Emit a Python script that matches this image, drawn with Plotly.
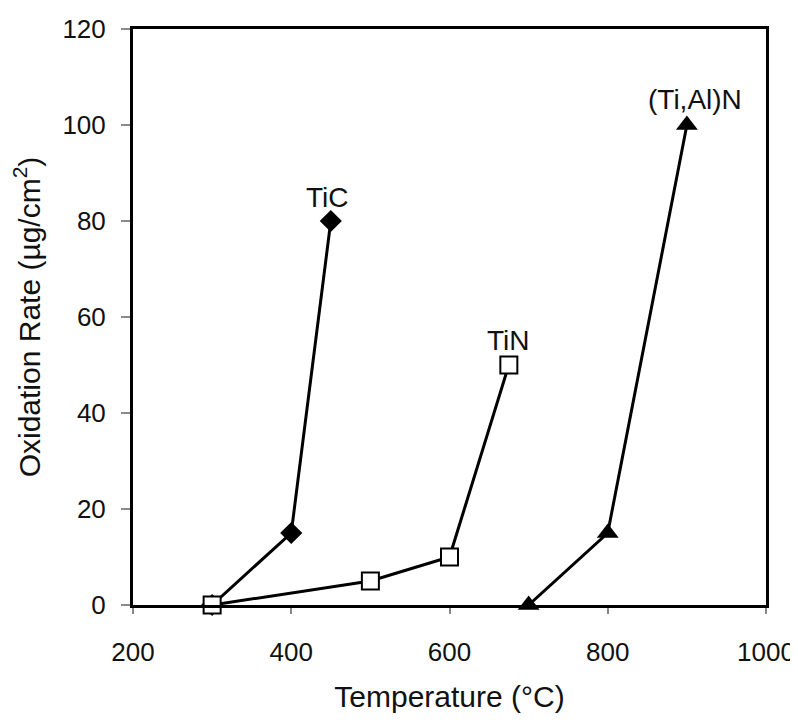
import plotly.graph_objects as go

# Data
tic_temp = [300, 400, 450]
tic_rate = [0, 15, 80]
tin_temp = [300, 500, 600, 675]
tin_rate = [0, 5, 10, 50]
tialn_temp = [700, 800, 900]
tialn_rate = [0, 15, 100]

x_ticks = [200, 400, 600, 800, 1000]
y_ticks = [0, 20, 40, 60, 80, 100, 120]

FONT = "Liberation Sans, Arial, sans-serif"
LBL = dict(size=28, color="#111", family=FONT)

fig = go.Figure()

fig.add_trace(go.Scatter(
    x=tic_temp, y=tic_rate, mode="lines+markers",
    line=dict(color="black", width=3),
    marker=dict(symbol="diamond", size=17, color="black"),
    name="TiC", cliponaxis=False))
fig.add_trace(go.Scatter(
    x=tialn_temp, y=tialn_rate, mode="lines+markers",
    line=dict(color="black", width=3),
    marker=dict(symbol="triangle-up", size=19, color="black"),
    name="(Ti,Al)N", cliponaxis=False))
fig.add_trace(go.Scatter(
    x=tin_temp, y=tin_rate, mode="lines+markers",
    line=dict(color="black", width=3),
    marker=dict(symbol="square", size=17, color="white",
                line=dict(color="black", width=2)),
    name="TiN", cliponaxis=False))

# Series labels at each last point
fig.add_annotation(x=tic_temp[-1], y=tic_rate[-1], text="TiC", showarrow=False,
                   yshift=24, xshift=-3, font=LBL)
fig.add_annotation(x=tin_temp[-1], y=tin_rate[-1], text="TiN", showarrow=False,
                   yshift=25, xshift=0, font=LBL)
fig.add_annotation(x=tialn_temp[-1], y=tialn_rate[-1], text="(Ti,Al)N", showarrow=False,
                   yshift=26, xshift=8, font=LBL)

fig.update_layout(
    width=798, height=722,
    paper_bgcolor="white", plot_bgcolor="white",
    showlegend=False,
    margin=dict(l=125, r=40, t=21, b=125),
    font=dict(family=FONT, size=27, color="#111"),
    xaxis=dict(range=[200, 1000], tickvals=x_ticks, ticks="outside", ticklen=6,
               tickcolor="#888", tickwidth=2, showgrid=False, zeroline=False,
               showline=True, linecolor="black", linewidth=3, mirror=True,
               ticklabelstandoff=16,
               tickfont=dict(size=26), automargin=False,
               title=dict(text="Temperature (°C)", font=dict(size=30), standoff=20)),
    yaxis=dict(range=[0, 120], tickvals=y_ticks, ticks="outside", ticklen=9,
               tickcolor="#888", tickwidth=2, showgrid=False, zeroline=False,
               showline=True, linecolor="black", linewidth=3, mirror=True,
               ticklabelstandoff=10,
               tickfont=dict(size=26), automargin=False,
               title=dict(text="Oxidation Rate (µg/cm<sup>2</sup>)", font=dict(size=30), standoff=16)),
)

fig.write_html("out.html")
